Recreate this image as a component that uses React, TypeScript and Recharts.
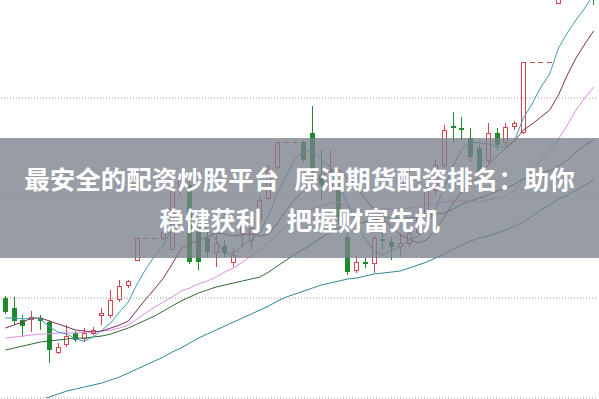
import React from 'react';
import { ComposedChart, Bar, Line, XAxis, YAxis, ReferenceLine } from 'recharts';

// daily candles (68 sessions)
const opens = [
  11.0, 10.9, 10.78, 10.79, 10.8, 10.76, 10.46, 10.54, 10.65, 10.6,
  10.65, 10.83, 10.83, 10.99, 11.13, 11.38, 11.6, 11.6, 11.6, 11.49,
  12.08, 12.13, 11.71, 11.6, 11.46, 11.52, 11.36, 11.65, 11.58, 11.78,
  12.0, 12.31, 12.56, 12.56, 12.56, 12.65, 12.23, 12.08, 12.11, 11.61,
  11.28, 11.36, 11.35, 11.59, 11.56, 11.52, 11.55, 11.66, 11.83, 12.08,
  12.33, 12.72, 12.7, 12.6, 12.5, 12.38, 12.65, 12.56, 12.72, 12.66,
  13.36, 13.36, 13.36, 13.95, 14.12, 14.15, 14.08, 14.1,
];
const highs = [
  11.02, 11.01, 10.83, 10.87, 10.83, 10.78, 10.55, 10.73, 10.67, 10.7,
  10.71, 10.9, 11.08, 11.18, 11.18, 11.6, 11.6, 11.6, 11.7, 12.12,
  12.26, 12.18, 11.73, 11.68, 11.65, 11.58, 11.5, 11.81, 11.76, 12.03,
  12.33, 12.56, 12.56, 12.56, 12.58, 12.92, 12.48, 12.48, 12.18, 11.68,
  11.43, 11.4, 11.62, 11.68, 11.61, 11.65, 11.68, 11.88, 12.13, 12.38,
  12.73, 12.86, 12.81, 12.7, 12.53, 12.75, 12.7, 12.75, 12.77, 13.36,
  13.36, 13.36, 13.36, 14.25, 14.3, 14.35, 14.25, 14.2,
];
const lows = [
  10.84, 10.73, 10.61, 10.66, 10.68, 10.35, 10.44, 10.51, 10.56, 10.56,
  10.63, 10.73, 10.8, 10.96, 11.1, 11.38, 11.6, 11.6, 11.58, 11.48,
  12.03, 11.34, 11.28, 11.41, 11.31, 11.41, 11.31, 11.51, 11.48, 11.73,
  11.98, 12.28, 12.56, 12.56, 12.36, 12.18, 11.98, 12.06, 11.73, 11.23,
  11.25, 11.3, 11.25, 11.48, 11.38, 11.41, 11.51, 11.63, 11.8, 12.03,
  12.3, 12.55, 12.58, 12.36, 12.23, 12.35, 12.48, 12.53, 12.68, 12.64,
  13.36, 13.36, 13.36, 13.94, 14.0, 14.02, 14.0, 13.93,
];
const closes = [
  10.86, 10.77, 10.72, 10.81, 10.77, 10.48, 10.51, 10.62, 10.58, 10.65,
  10.68, 10.85, 10.98, 11.12, 11.17, 11.6, 11.6, 11.6, 11.66, 12.1,
  12.18, 11.36, 11.36, 11.46, 11.55, 11.45, 11.43, 11.75, 11.7, 11.98,
  12.28, 12.56, 12.56, 12.56, 12.38, 12.28, 12.13, 12.18, 11.81, 11.26,
  11.36, 11.34, 11.6, 11.57, 11.51, 11.55, 11.65, 11.83, 12.08, 12.33,
  12.68, 12.7, 12.68, 12.41, 12.26, 12.65, 12.53, 12.71, 12.75, 13.36,
  13.36, 13.36, 13.36, 14.1, 14.18, 14.08, 14.05, 14.01,
];

// moving average lines as they appear on the chart
const ma5 = [
  10.8, 10.8, 10.79, 10.8, 10.79, 10.71, 10.66, 10.64, 10.59, 10.57,
  10.61, 10.68, 10.75, 10.86, 10.96, 11.14, 11.29, 11.42, 11.53, 11.71,
  11.83, 11.78, 11.73, 11.69, 11.58, 11.44, 11.45, 11.53, 11.58, 11.66,
  11.83, 12.05, 12.22, 12.39, 12.47, 12.47, 12.38, 12.31, 12.16, 11.93,
  11.75, 11.59, 11.47, 11.43, 11.48, 11.51, 11.58, 11.62, 11.72, 11.89,
  12.11, 12.32, 12.49, 12.56, 12.55, 12.54, 12.51, 12.51, 12.58, 12.8,
  12.94, 13.11, 13.24, 13.5, 13.65, 13.78, 13.9, 14.03,
];
const ma10 = [
  10.7, 10.73, 10.76, 10.8, 10.8, 10.77, 10.74, 10.71, 10.68, 10.67,
  10.66, 10.67, 10.7, 10.73, 10.77, 10.88, 10.99, 11.09, 11.2, 11.34,
  11.49, 11.54, 11.58, 11.61, 11.65, 11.64, 11.62, 11.63, 11.64, 11.62,
  11.64, 11.75, 11.88, 11.99, 12.07, 12.15, 12.22, 12.27, 12.28, 12.2,
  12.11, 11.99, 11.89, 11.8, 11.71, 11.63, 11.59, 11.55, 11.58, 11.69,
  11.81, 11.95, 12.06, 12.14, 12.22, 12.33, 12.42, 12.5, 12.57, 12.68,
  12.74, 12.81, 12.88, 13.03, 13.23, 13.4, 13.54, 13.67,
];
const ma20 = [
  10.6, 10.61, 10.62, 10.63, 10.64, 10.64, 10.65, 10.65, 10.65, 10.66,
  10.66, 10.67, 10.68, 10.7, 10.73, 10.79, 10.85, 10.91, 10.96, 11.01,
  11.07, 11.1, 11.14, 11.17, 11.21, 11.26, 11.3, 11.36, 11.42, 11.48,
  11.56, 11.64, 11.73, 11.8, 11.86, 11.89, 11.92, 11.95, 11.96, 11.91,
  11.87, 11.87, 11.88, 11.89, 11.89, 11.89, 11.9, 11.91, 11.93, 11.94,
  11.96, 11.97, 11.97, 11.97, 11.96, 11.98, 12.0, 12.02, 12.07, 12.18,
  12.28, 12.38, 12.47, 12.59, 12.73, 12.88, 13.0, 13.11,
];
const ma30 = [
  10.48, 10.5, 10.52, 10.54, 10.56, 10.57, 10.58, 10.59, 10.6, 10.6,
  10.61, 10.62, 10.64, 10.67, 10.7, 10.74, 10.78, 10.82, 10.87, 10.92,
  10.97, 11.01, 11.05, 11.08, 11.11, 11.13, 11.15, 11.17, 11.19, 11.21,
  11.26, 11.32, 11.38, 11.44, 11.49, 11.55, 11.6, 11.66, 11.7, 11.72,
  11.74, 11.76, 11.78, 11.8, 11.8, 11.8, 11.8, 11.81, 11.83, 11.84,
  11.85, 11.89, 11.94, 11.97, 12.0, 12.03, 12.07, 12.1, 12.14, 12.19,
  12.22, 12.25, 12.27, 12.32, 12.38, 12.46, 12.53, 12.58,
];
const ma60 = [
  9.88, 9.91, 9.93, 9.96, 9.98, 10.01, 10.04, 10.07, 10.09, 10.11,
  10.13, 10.15, 10.18, 10.21, 10.25, 10.29, 10.33, 10.37, 10.41, 10.46,
  10.5, 10.55, 10.6, 10.64, 10.68, 10.72, 10.76, 10.8, 10.84, 10.88,
  10.92, 10.97, 11.01, 11.04, 11.07, 11.1, 11.13, 11.15, 11.17, 11.19,
  11.2, 11.22, 11.24, 11.25, 11.26, 11.27, 11.3, 11.33, 11.36, 11.4,
  11.44, 11.49, 11.53, 11.57, 11.6, 11.62, 11.65, 11.68, 11.72, 11.76,
  11.82, 11.88, 11.93, 11.99, 12.03, 12.08, 12.13, 12.18,
];

const gridLevels = [10, 11, 12, 13];
const titleLines = ['最安全的配资炒股平台 原油期货配资排名：助你', '稳健获利，把握财富先机'];

const RED = '#d4454e';
const GREEN = '#1f8a2c';

const data = opens.map((open, i) => ({
  day: i + 1,
  open,
  high: highs[i],
  low: lows[i],
  close: closes[i],
  ma5: ma5[i],
  ma10: ma10[i],
  ma20: ma20[i],
  ma30: ma30[i],
  ma60: ma60[i],
}));

const Candle = (props: any) => {
  const { x, y, width, height, payload } = props;
  if (!payload) return null;
  const { open, close, high, low } = payload;
  const c = Math.floor(x + width / 2);
  const top = Math.min(y, y + height);
  const h = Math.abs(height);
  const py = (v: number) => (high === low ? top : top + ((high - v) / (high - low)) * h);

  // one-price (limit up) day: a flat dash
  if (high === low) {
    const yy = Math.round(top) + 0.5;
    return <line x1={c - 2} x2={c + 3} y1={yy} y2={yy} stroke={RED} strokeWidth={1} />;
  }

  const up = close >= open;
  const color = up ? RED : GREEN;
  const yTop = Math.round(py(Math.max(open, close)));
  const yBot = Math.round(py(Math.min(open, close)));
  const wick = (
    <line x1={c + 0.5} x2={c + 0.5} y1={py(high)} y2={py(low)} stroke={color} strokeWidth={1} />
  );
  if (up) {
    return (
      <g>
        {wick}
        <rect x={c - 1.5} y={yTop + 0.5} width={4} height={Math.max(yBot - yTop, 1)} fill="#fff" stroke={color} strokeWidth={1} />
      </g>
    );
  }
  return (
    <g>
      {wick}
      <rect x={c - 2} y={yTop} width={5} height={Math.max(yBot - yTop, 1)} fill={color} />
    </g>
  );
};

export default function App() {
  return (
    <div style={{ position: 'absolute', left: 0, top: -2, width: 599, height: 401, background: '#fff', fontFamily: '"Noto Sans CJK SC", "Noto Sans", sans-serif' }}>
      <ComposedChart width={599} height={401} data={data} margin={{ top: 0, right: 1, bottom: 1, left: 1 }}>
        <XAxis dataKey="day" hide />
        <YAxis type="number" domain={[10, 14]} allowDataOverflow hide />
        {gridLevels.map((g) => (
          <ReferenceLine key={g} y={g} stroke="#9a9a9a" strokeDasharray="1 2" />
        ))}
        <Bar dataKey={(d: any) => [d.low, d.high]} shape={Candle} isAnimationActive={false} />
        <Line type="linear" dataKey="ma60" stroke="#2f8796" strokeWidth={1} dot={false} isAnimationActive={false} />
        <Line type="linear" dataKey="ma30" stroke="#2f6b35" strokeWidth={1} dot={false} isAnimationActive={false} />
        <Line type="linear" dataKey="ma20" stroke="#e38ee3" strokeWidth={1} dot={false} isAnimationActive={false} />
        <Line type="linear" dataKey="ma10" stroke="#7d2f5c" strokeWidth={1} dot={false} isAnimationActive={false} />
        <Line type="linear" dataKey="ma5" stroke="#3e9db2" strokeWidth={1} dot={false} isAnimationActive={false} />
      </ComposedChart>
      <div style={{ position: 'absolute', left: 0, top: 140, width: 599, height: 120, background: 'rgba(122,128,140,0.78)' }}>
        {titleLines.map((t, i) => (
          <div key={i} style={{ position: 'absolute', left: 0, width: 599, top: 20 + i * 41, height: 40, lineHeight: '40px', textAlign: 'center', color: '#fff', fontSize: 25.5, fontWeight: 700, wordSpacing: 9, whiteSpace: 'nowrap' }}>
            {t}
          </div>
        ))}
      </div>
    </div>
  );
}
